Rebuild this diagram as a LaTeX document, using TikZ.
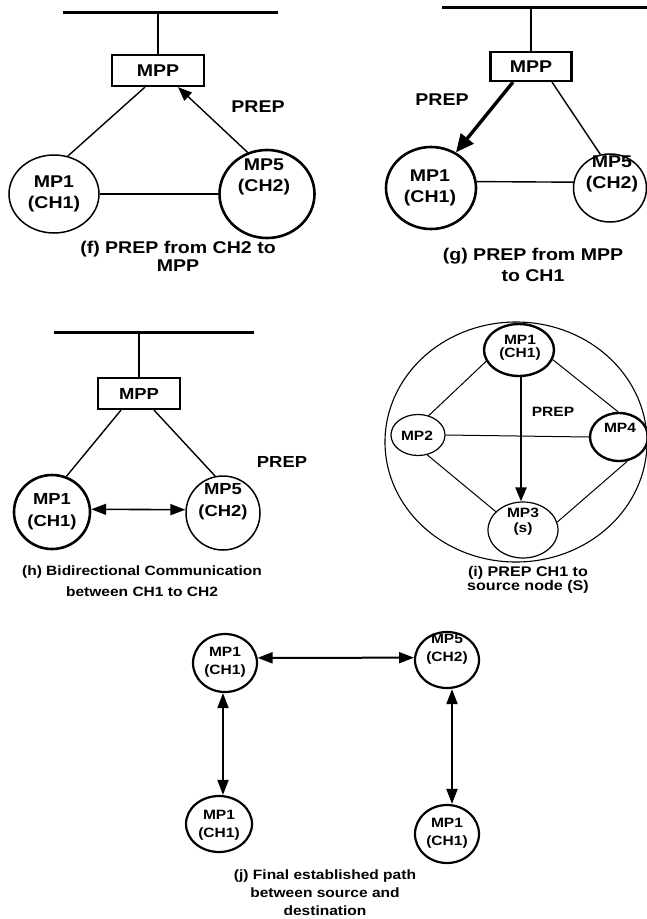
\documentclass[tikz,border=0pt]{standalone}
\usepackage{fontspec}
\setmainfont{Liberation Sans}[FakeStretch=1.15]
\usetikzlibrary{shapes.geometric,arrows.meta,calc}
\begin{document}
\begin{tikzpicture}[x=1pt,y=-1pt,
  bus/.style={line width=3pt},
  mppbox/.style={draw,line width=2.2pt,inner sep=0pt,font=\bfseries\fontsize{17}{20}\selectfont},
  ell/.style={ellipse,draw,inner sep=0pt,line width=1.5pt},
  ellthick/.style={ellipse,draw,inner sep=0pt,line width=2.6pt},
  conn/.style={line width=1.4pt},
  lbl/.style={inner sep=0pt,align=center},
  fa/.style={font=\bfseries\fontsize{17}{21}\selectfont},
  ha/.style={font=\bfseries\fontsize{16}{22}\selectfont},
  ia/.style={font=\bfseries\fontsize{13.5}{13}\selectfont},
  ja/.style={font=\bfseries\fontsize{13.5}{17.5}\selectfont},
  tip/.style={-{Triangle[length=14pt,width=11pt]}},
  dtip/.style={{Triangle[length=15pt,width=11pt]}-{Triangle[length=15pt,width=11pt]}}
]
\useasboundingbox (0,0) rectangle (647,919);
\fill[white] (0,0) rectangle (647,919);

% ---------------- panel (f)
\coordinate (fb1) at (63,12);
\coordinate (fb2) at (278,12);
\draw[bus] (fb1) -- (fb2);
\node[mppbox,minimum width=92pt,minimum height=31pt] (fmpp) at (158,70.5) {MPP};
\draw[line width=2.4pt] (fmpp.north) -- (fmpp.north |- fb1);
\node[ell,minimum width=90pt,minimum height=78pt] (f1) at (54,194) {};
\node[lbl,fa] (f1t) at (54,194) {MP1\\(CH1)};
\node[ellthick,minimum width=95pt,minimum height=88pt] (f5) at (267,194) {};
\node[lbl,fa] (f5t) at (264,177) {MP5\\(CH2)};
\draw[conn] (f1.70) -- ($(fmpp.south)+(-13,0)$);
\draw[conn,tip] (f5.115) -- ($(fmpp.south)+(20,0)$);
\draw[conn] (f1.east) -- (f5.west);
\node[lbl,fa] (fp) at (258,107) {PREP};
\node[lbl,font=\bfseries\fontsize{17}{18}\selectfont] (fc) at (178,256) {(f) PREP from CH2 to\\MPP};

% ---------------- panel (g)
\coordinate (gb1) at (442,7);
\coordinate (gb2) at (647,7);
\draw[bus] (gb1) -- (gb2);
\node[mppbox,minimum width=81pt,minimum height=29pt] (gmpp) at (531,66.5) {MPP};
\draw[line width=2.4pt] (gmpp.north) -- (gmpp.north |- gb1);
\node[ellthick,minimum width=90pt,minimum height=82pt] (g1) at (431,188) {};
\node[lbl,fa] (g1t) at (430,188) {MP1\\(CH1)};
\node[ell,minimum width=73pt,minimum height=68pt] (g5) at (610,188) {};
\node[lbl,fa] (g5t) at (612,174) {MP5\\(CH2)};
\draw[line width=3.4pt,-{Triangle[length=18pt,width=16pt]}] ($(gmpp.south)+(-18,0)$) -- (g1.55);
\draw[conn] ($(gmpp.south)+(21,0)$) -- (g5.106);
\draw[conn] (g1.8) -- (g5.171);
\node[lbl,fa] (gp) at (442,100) {PREP};
\node[lbl,font=\bfseries\fontsize{17}{21}\selectfont] (gc) at (533,265) {(g) PREP from MPP\\to CH1};

% ---------------- panel (h)
\coordinate (hb1) at (54,332);
\coordinate (hb2) at (254,332);
\draw[bus] (hb1) -- (hb2);
\node[mppbox,font=\bfseries\fontsize{16}{18}\selectfont,minimum width=82pt,minimum height=31pt] (hmpp) at (139,393.5) {MPP};
\draw[line width=2.4pt] (hmpp.north) -- (hmpp.north |- hb1);
\node[ellthick,minimum width=76pt,minimum height=74pt] (h1) at (52,512) {};
\node[lbl,ha] (h1t) at (52,512) {MP1\\(CH1)};
\node[ell,minimum width=74pt,minimum height=74pt] (h5) at (223,513) {};
\node[lbl,ha] (h5t) at (223,502) {MP5\\(CH2)};
\draw[conn] ($(hmpp.south)+(-18,0)$) -- (h1.68);
\draw[conn] ($(hmpp.south)+(15,0)$) -- (h5.102);
\draw[conn,line width=1.6pt,dtip] (h1.4) -- (h5.175);
\node[lbl,font=\bfseries\fontsize{16}{18}\selectfont] (hp) at (282,462) {PREP};
\node[lbl,font=\bfseries\fontsize{13.5}{21}\selectfont] (hc) at (142,581) {(h) Bidirectional Communication\\between CH1 to CH2};

% ---------------- panel (i)
\node[ellipse,draw,inner sep=0pt,line width=1.1pt,minimum width=262pt,minimum height=240pt] (ibig) at (516,442) {};
\node[ellthick,line width=2.4pt,minimum width=70pt,minimum height=52pt] (i1) at (519,350) {};
\node[lbl,ia] (i1t) at (520,348) {MP1\\(CH1)};
\node[ell,line width=1.2pt,minimum width=54pt,minimum height=41pt] (i2) at (418,435) {};
\node[lbl,ia] (i2t) at (417,436) {MP2};
\node[ellthick,line width=2.4pt,minimum width=58pt,minimum height=48pt] (i4) at (619,437) {};
\node[lbl,ia] (i4t) at (620,428) {MP4};
\node[ell,line width=1.2pt,minimum width=70pt,minimum height=56pt] (i3) at (523,530) {};
\node[lbl,font=\bfseries\fontsize{13.5}{15}\selectfont] (i3t) at (523,522) {MP3\\(s)};
\draw[line width=1pt] (i1.199) -- (i2.61);
\draw[line width=1pt] (i1.344) -- (i4.92);
\draw[line width=1pt] (i2.east) -- (i4.west);
\draw[line width=1pt] (i2.295) -- (i3.146);
\draw[line width=1pt] (i4.289) -- (i3.13);
\draw[line width=2.2pt,-{Triangle[length=14pt,width=11pt]}] ($(i1.south)+(2,0)$) -- ($(i3.north)+(-2,0)$);
\node[lbl,ia] (ip) at (553,412) {PREP};
\node[lbl,font=\bfseries\fontsize{14}{14}\selectfont] (ic) at (528,580) {(i) PREP CH1 to\\source node (S)};

% ---------------- panel (j)
\node[ellthick,line width=2.2pt,minimum width=64pt,minimum height=58pt] (j1) at (225,663) {};
\node[lbl,ja] (j1t) at (225,662) {MP1\\(CH1)};
\node[ellthick,line width=2.2pt,minimum width=64pt,minimum height=56pt] (j5) at (447,660) {};
\node[lbl,ja] (j5t) at (447,649) {MP5\\(CH2)};
\node[ellthick,line width=2.2pt,minimum width=66pt,minimum height=56pt] (j2) at (219,824) {};
\node[lbl,ja] (j2t) at (219,825) {MP1\\(CH1)};
\node[ellthick,line width=2.2pt,minimum width=64pt,minimum height=58pt] (j3) at (447,834) {};
\node[lbl,ja] (j3t) at (447,833) {MP1\\(CH1)};
\draw[line width=2pt,dtip] (j1.9) -- (j5.176);
\draw[line width=2pt,dtip] ($(j1.south)+(-2,0)$) -- ($(j2.north)+(4,0)$);
\draw[line width=2pt,dtip] ($(j5.south)+(5,0)$) -- ($(j3.north)+(5,0)$);
\node[lbl,font=\bfseries\fontsize{13.5}{18}\selectfont] (jc) at (325,893) {(j) Final established path\\between source and\\destination};
\end{tikzpicture}
\end{document}
